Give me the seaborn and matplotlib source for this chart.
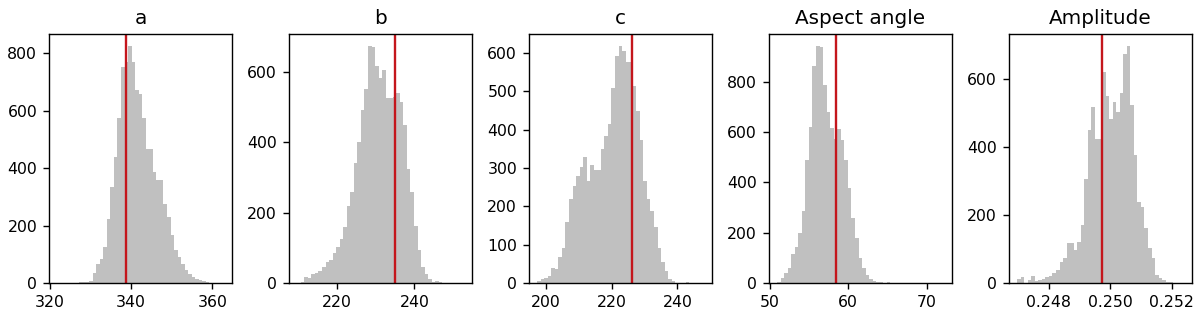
import numpy as np
import pandas as pd
import matplotlib
matplotlib.use("Agg")
import matplotlib.pyplot as plt
import seaborn as sns

# ---------------- data ----------------
titles = ["a", "b", "c", "Aspect angle", "Amplitude"]
true_values = [338.85, 234.95, 226.1, 58.47, 0.24973]
bin_ranges = [(321.80, 362.80), (209.84, 252.66), (197.43, 247.93),
              (50.93, 72.13), (0.246966, 0.25238)]

counts_a = [0, 0, 0, 0, 0, 1, 2, 5, 5, 8, 34, 66, 84, 127, 223, 333, 440, 573,
            753, 770, 826, 771, 672, 660, 573, 466, 466, 385, 359, 359, 274,
            231, 167, 115, 92, 65, 45, 30, 22, 15, 10, 6, 3, 1, 0, 0, 1]
counts_b = [1, 4, 16, 13, 26, 29, 35, 45, 61, 65, 84, 103, 124, 160, 219, 259,
            342, 401, 491, 550, 674, 671, 617, 584, 605, 526, 526, 530, 541,
            515, 448, 324, 259, 163, 94, 46, 26, 11, 4, 6, 2, 0, 0, 0, 0, 0, 1]
counts_c = [5, 10, 12, 18, 38, 36, 69, 91, 160, 219, 252, 280, 302, 330, 267,
            308, 295, 295, 350, 384, 416, 509, 593, 619, 605, 578, 578, 515,
            449, 374, 265, 219, 189, 145, 92, 56, 32, 10, 6, 1, 0, 0, 3, 0, 0,
            0, 1]
counts_d = [5, 20, 41, 61, 114, 144, 197, 287, 489, 621, 862, 943, 939, 789,
            681, 615, 571, 611, 568, 489, 376, 260, 177, 98, 58, 32, 15, 9, 5,
            2, 0, 5, 0, 0, 0, 0, 0, 0, 0, 0, 0, 0, 0, 0, 0, 0, 1]
counts_e = [12, 18, 0, 8, 20, 5, 10, 13, 18, 20, 28, 38, 63, 73, 117, 117, 97,
            120, 171, 306, 450, 519, 423, 423, 620, 550, 484, 533, 504, 558,
            675, 698, 523, 376, 239, 225, 163, 102, 73, 24, 16, 9, 4, 2, 0, 0, 1]
all_counts = [counts_a, counts_b, counts_c, counts_d, counts_e]

xticks = [[320, 340, 360], [220, 240], [200, 220, 240], [50, 60, 70],
          [0.248, 0.250, 0.252]]
xticklabels = [["320", "340", "360"], ["220", "240"], ["200", "220", "240"],
               ["50", "60", "70"], ["0.248", "0.250", "0.252"]]
yticks = [[0, 200, 400, 600, 800], [0, 200, 400, 600],
          [0, 100, 200, 300, 400, 500, 600], [0, 200, 400, 600, 800],
          [0, 200, 400, 600]]

# ---------------- style ----------------
plt.rcParams.update({
    "font.family": ["DejaVu Sans"],
    "xtick.labelsize": 11.3,
    "ytick.labelsize": 11.3,
    "xtick.major.size": 4.5,
    "ytick.major.size": 4.5,
    "xtick.major.width": 1.0,
    "ytick.major.width": 1.0,
    "xtick.major.pad": 4.0,
    "ytick.major.pad": 4.0,
    "axes.linewidth": 1.0,
})

fig, axes = plt.subplots(1, 5, figsize=(12, 3.15), dpi=100)
fig.subplots_adjust(left=0.0408, right=0.9931, bottom=0.1016, top=0.8921,
                    wspace=0.311)

for ax, title, tv, (lo, hi), counts, xt, xl, yt in zip(
        axes, titles, true_values, bin_ranges, all_counts,
        xticks, xticklabels, yticks):
    n = len(counts)
    width = (hi - lo) / n
    centers = lo + width * (np.arange(n) + 0.5)
    df = pd.DataFrame({"x": centers, "w": counts})
    sns.histplot(data=df, x="x", weights="w", bins=n, binrange=(lo, hi),
                 element="step", fill=True, color="#c0c0c0", alpha=1,
                 linewidth=0, ax=ax)
    ax.axvline(tv, color="#c4161c", lw=1.7)
    ax.set_title(title, fontsize=14.4, pad=7.5)
    ax.set_xlabel("")
    ax.set_ylabel("")
    ax.set_xticks(xt)
    ax.set_xticklabels(xl)
    ax.set_yticks(yt)
    ax.set_ylim(bottom=0)

fig.savefig("out.png", dpi=100)
